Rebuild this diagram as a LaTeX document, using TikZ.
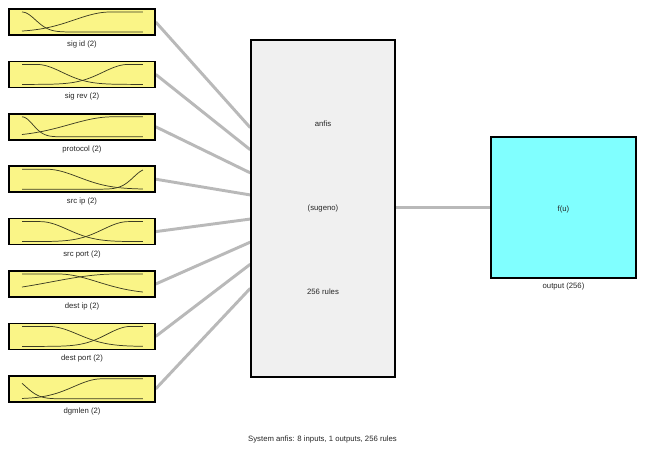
\documentclass[tikz,border=0pt]{standalone}
\usepackage{fontspec}
\setmainfont{Liberation Sans}
\usetikzlibrary{calc}
\definecolor{mfyellow}{RGB}{250,245,135}
\definecolor{outcyan}{RGB}{128,255,255}
\definecolor{fisgray}{RGB}{240,240,240}
\definecolor{linkgray}{RGB}{185,185,185}
\definecolor{mfcurvecol}{RGB}{60,60,35}
\pgfdeclarelayer{background}
\pgfsetlayers{background,main}
\begin{document}
\begin{tikzpicture}[x=0.75pt,y=-0.75pt,
  declare function={mfl(\pa,\pb,\pc)=(\pa<=\pb)?1:exp(-((\pa-\pb)/\pc)*((\pa-\pb)/\pc));
                    mfr(\pa,\pb,\pc)=(\pa>=\pb)?1:exp(-((\pa-\pb)/\pc)*((\pa-\pb)/\pc));},
  inbox/.style={draw=black,line width=1.1pt,fill=mfyellow,minimum width=109.5pt,minimum height=19.5pt,inner sep=0pt},
  fisbox/.style={draw=black,line width=1.1pt,fill=fisgray,minimum width=108pt,minimum height=252.75pt,inner sep=0pt},
  outbox/.style={draw=black,line width=1.1pt,fill=outcyan,minimum width=108.75pt,minimum height=105.75pt,inner sep=0pt},
  lbl/.style={font=\fontsize{5.8}{7}\selectfont,text=black!85,inner sep=0pt},
  link/.style={draw=linkgray,line width=2.2pt},
  mfcurve/.style={draw=mfcurvecol,line width=0.55pt,line join=round}
]
\useasboundingbox (0,0) rectangle (648,451);

% input boxes and labels
\foreach \k/\name in {0/sig id (2),1/sig rev (2),2/protocol (2),3/src ip (2),4/src port (2),5/dest ip (2),6/dest port (2),7/dgmlen (2)}{
  \pgfmathsetmacro\ytop{9+52.4*\k}
  \node[inbox] (in\k) at (82,\ytop+13) {};
  \node[lbl] (lab\k) at (82,\ytop+35.5) {\name};
}

% membership function curves
\foreach \k/\cl/\sl/\cr/\sr in {0/0/0.157/0.73/0.42, 1/0.12/0.3/0.88/0.3, 2/0/0.127/0.75/0.51, 3/0.2/0.376/1.03/0.152, 4/0.15/0.32/0.88/0.30, 5/0.3/0.46/0.78/0.76, 6/0.22/0.34/0.9/0.28, 7/-0.08/0.158/0.66/0.33}{
  \pgfmathsetmacro\ybot{9+52.4*\k+23}
  \draw[mfcurve] plot[domain=0:1,samples=70] ({22+121*\x},{\ybot-20*mfl(\x,\cl,\sl)});
  \draw[mfcurve] plot[domain=0:1,samples=70] ({22+121*\x},{\ybot-20*mfr(\x,\cr,\sr)});
}

% FIS box
\node[fisbox] (fis) at (323,208.5) {};
\node[lbl] (fisname) at (323,124) {anfis};
\node[lbl] (fistype) at (323,208) {(sugeno)};
\node[lbl] (fisrules) at (323,292) {256 rules};

% output box
\node[outbox] (out) at (563.5,207.5) {};
\node[lbl] (outf) at (563.5,209) {f(u)};
\node[lbl] (outlab) at (563.5,286.5) {output (256)};

% connectors
\begin{pgfonlayer}{background}
\fill[white] (0,0) rectangle (648,451);
\foreach \k/\yy in {0/128,1/150,2/173,3/195,4/219,5/242,6/264,7/288}{
  \coordinate (e\k) at ($(fis.north west)!{(\yy-40)/337}!(fis.south west)$);
  \draw[link] (in\k.east) -- (e\k);
}
\draw[link] (out.west -| fis.east) -- (out.west);
\end{pgfonlayer}

\node[lbl] (sys) at (322.5,439) {System anfis: 8 inputs, 1 outputs, 256 rules};
\end{tikzpicture}
\end{document}
